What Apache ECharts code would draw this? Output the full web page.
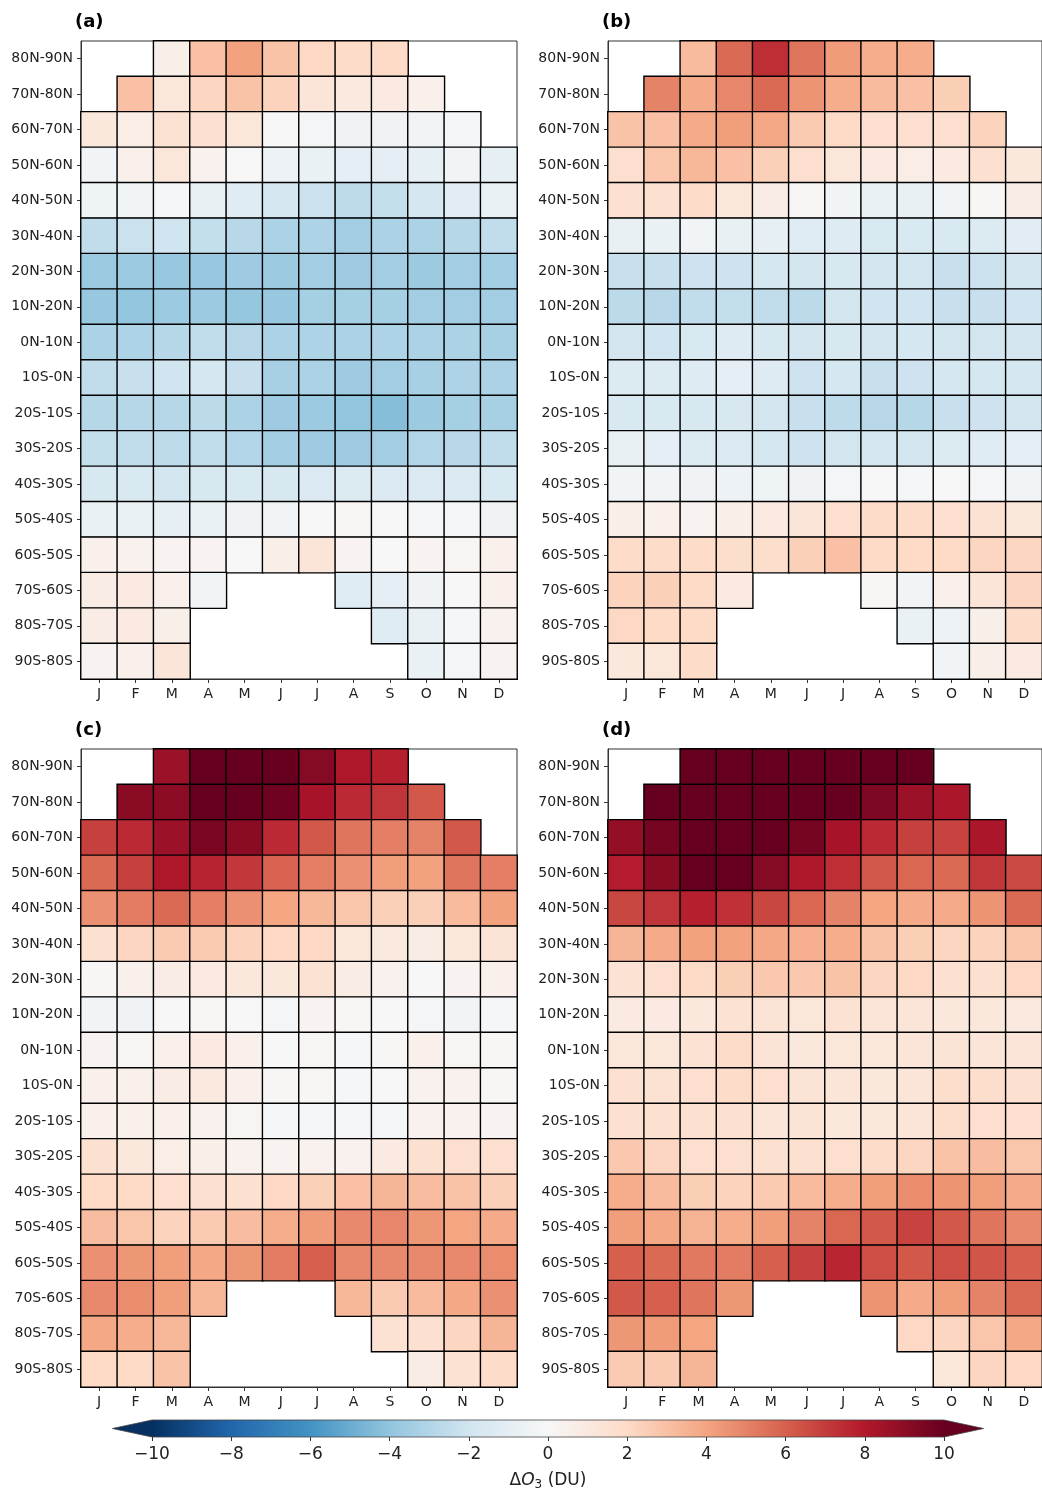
<!DOCTYPE html>
<html>
<head>
<meta charset="utf-8">
<script src="https://cdn.jsdelivr.net/npm/echarts@6/dist/echarts.min.js"></script>
<style>
  html, body { margin: 0; padding: 0; background: #fff; }
  #chart { width: 1042px; height: 1492px; }
</style>
</head>
<body>
<div id="chart"></div>
<script>
var n = null;

// month ticks and latitude bands (top to bottom)
var months = ['J', 'F', 'M', 'A', 'M', 'J', 'J', 'A', 'S', 'O', 'N', 'D'];
var bands = ['80N-90N', '70N-80N', '60N-70N', '50N-60N', '40N-50N', '30N-40N',
  '20N-30N', '10N-20N', '0N-10N', '10S-0N', '20S-10S', '30S-20S',
  '40S-30S', '50S-40S', '60S-50S', '70S-60S', '80S-70S', '90S-80S'];
var panelNames = ['(a)', '(b)', '(c)', '(d)'];

// ozone change (DU), one row per latitude band, null = no data
var panelA = [
  [n, n, 0.6, 3.0, 4.1, 2.9, 2.1, 1.9, 2.0, n, n, n],
  [n, 3.0, 1.2, 2.2, 2.9, 2.3, 1.3, 1.0, 0.9, 0.5, n, n],
  [1.1, 0.7, 1.5, 1.6, 1.2, 0.0, -0.2, -0.4, -0.4, -0.3, -0.1, n],
  [-0.3, 0.5, 1.2, 0.4, 0.0, -0.6, -0.7, -1.0, -1.0, -0.9, -0.3, -0.9],
  [-0.5, -0.3, -0.1, -0.8, -1.2, -1.8, -2.2, -2.6, -2.4, -1.8, -1.1, -0.7],
  [-2.5, -2.2, -2.0, -2.4, -2.8, -3.2, -3.1, -3.5, -3.2, -3.2, -2.9, -2.5],
  [-3.7, -3.7, -3.8, -3.8, -3.6, -3.7, -3.5, -3.6, -3.5, -3.7, -3.5, -3.5],
  [-3.8, -4.0, -3.7, -3.7, -3.9, -3.8, -3.4, -3.4, -3.4, -3.5, -3.5, -3.5],
  [-3.2, -3.1, -2.9, -2.5, -2.8, -3.2, -3.1, -3.2, -3.1, -3.2, -3.2, -3.3],
  [-2.5, -2.3, -2.0, -1.8, -2.3, -3.3, -3.2, -3.6, -3.5, -3.3, -3.1, -3.2],
  [-2.9, -2.9, -2.9, -2.7, -3.2, -3.6, -3.7, -4.0, -4.3, -3.7, -3.4, -3.3],
  [-2.4, -2.5, -2.6, -2.5, -3.0, -3.5, -3.6, -3.6, -3.5, -3.0, -2.8, -2.5],
  [-1.7, -1.6, -1.9, -1.7, -1.6, -1.7, -1.5, -1.4, -1.5, -1.5, -1.5, -1.6],
  [-0.7, -0.7, -0.9, -0.7, -0.4, -0.3, 0.0, 0.1, 0.0, -0.1, -0.2, -0.4],
  [0.5, 0.4, 0.3, 0.3, 0.0, 0.6, 1.3, 0.3, 0.0, 0.3, 0.2, 0.5],
  [0.8, 0.9, 0.5, -0.3, n, n, n, -1.2, -1.0, -0.4, 0.0, 0.5],
  [0.8, 0.9, 0.6, n, n, n, n, n, -1.2, -0.8, -0.1, 0.4],
  [0.3, 0.5, 1.3, n, n, n, n, n, n, -0.7, -0.2, 0.3]
];

var panelB = [
  [n, n, 3.2, 5.7, 7.4, 5.4, 4.3, 3.7, 3.7, n, n, n],
  [n, 5.0, 3.8, 4.9, 5.7, 4.5, 3.7, 3.2, 3.0, 2.5, n, n],
  [2.9, 3.0, 3.8, 4.2, 3.9, 2.6, 2.0, 1.7, 1.7, 1.7, 2.3, n],
  [1.7, 2.8, 3.3, 3.0, 2.4, 1.7, 1.2, 0.9, 0.7, 0.9, 1.6, 1.1],
  [1.6, 1.6, 1.9, 1.2, 0.8, 0.1, -0.3, -0.7, -0.8, -0.3, 0.1, 0.8],
  [-0.8, -0.7, -0.3, -0.8, -0.9, -1.2, -1.3, -1.6, -1.6, -1.6, -1.4, -1.1],
  [-2.3, -2.3, -2.1, -2.1, -1.8, -1.9, -1.7, -1.9, -1.9, -2.3, -2.2, -1.9],
  [-2.7, -2.8, -2.5, -2.4, -2.5, -2.7, -1.9, -2.0, -2.0, -2.3, -2.3, -2.0],
  [-1.9, -2.0, -1.6, -1.3, -1.7, -1.9, -1.7, -1.9, -1.8, -1.9, -1.9, -1.9],
  [-1.4, -1.4, -1.3, -1.0, -1.3, -2.1, -1.8, -2.3, -2.1, -1.8, -1.8, -1.8],
  [-1.6, -1.6, -1.7, -1.7, -1.9, -2.3, -2.6, -2.8, -2.9, -2.3, -2.1, -1.9],
  [-0.8, -1.0, -1.4, -1.5, -1.8, -2.1, -1.9, -1.8, -1.9, -1.4, -1.2, -1.0],
  [-0.3, -0.3, -0.4, -0.6, -0.5, -0.4, -0.2, 0.0, -0.1, 0.0, -0.2, -0.3],
  [0.6, 0.5, 0.3, 0.6, 0.9, 1.3, 1.7, 1.9, 1.9, 1.7, 1.5, 1.1],
  [1.9, 1.9, 1.9, 1.8, 1.8, 2.4, 3.0, 2.0, 2.0, 2.0, 2.2, 2.2],
  [2.3, 2.4, 2.0, 0.9, n, n, n, 0.1, -0.3, 0.5, 1.3, 2.2],
  [2.1, 2.0, 2.0, n, n, n, n, n, -0.7, -0.6, 0.6, 1.9],
  [1.1, 1.2, 1.9, n, n, n, n, n, n, -0.3, 0.6, 0.9]
];

var panelC = [
  [n, n, 8.6, 10.5, 10.5, 10.6, 9.2, 8.1, 7.8, n, n, n],
  [n, 9.1, 9.0, 10.3, 10.4, 9.8, 8.3, 7.5, 7.2, 6.2, n, n],
  [6.9, 7.5, 8.6, 9.5, 9.1, 7.5, 6.2, 5.4, 5.1, 5.0, 6.2, n],
  [5.7, 6.9, 8.1, 7.7, 7.1, 5.9, 5.1, 4.6, 4.2, 4.1, 5.4, 5.1],
  [4.6, 5.2, 5.7, 5.1, 4.6, 4.0, 3.3, 2.8, 2.4, 2.4, 3.2, 4.1],
  [1.6, 2.2, 2.6, 2.6, 2.3, 2.1, 2.1, 1.2, 1.0, 0.8, 1.2, 1.4],
  [0.1, 0.5, 0.8, 0.9, 1.1, 1.1, 1.5, 0.8, 0.4, 0.0, 0.3, 0.5],
  [-0.3, -0.4, 0.0, 0.1, 0.0, -0.2, 0.3, 0.1, 0.0, -0.2, -0.3, -0.1],
  [0.3, 0.2, 0.5, 0.9, 0.5, 0.0, 0.2, -0.1, 0.1, 0.5, 0.2, 0.1],
  [0.5, 0.5, 0.8, 1.0, 0.5, 0.1, 0.1, -0.1, 0.0, 0.4, 0.4, 0.1],
  [0.5, 0.5, 0.5, 0.4, 0.2, -0.1, -0.2, -0.2, -0.2, 0.4, 0.4, 0.3],
  [1.6, 1.1, 0.7, 0.6, 0.4, 0.3, 0.4, 0.4, 0.9, 1.6, 1.7, 1.7],
  [2.0, 2.0, 1.7, 1.6, 1.6, 2.1, 2.4, 3.0, 3.4, 3.1, 2.9, 2.4],
  [3.1, 2.8, 2.3, 2.6, 3.1, 3.7, 4.3, 4.8, 4.9, 4.4, 4.0, 3.8],
  [4.6, 4.4, 4.2, 3.9, 4.4, 5.2, 6.0, 4.8, 4.8, 4.8, 4.8, 4.7],
  [4.8, 4.7, 4.2, 3.3, n, n, n, 3.3, 2.6, 3.2, 3.9, 4.6],
  [3.9, 3.7, 3.3, n, n, n, n, n, 1.5, 1.6, 2.2, 3.4],
  [2.0, 2.0, 2.9, n, n, n, n, n, n, 0.8, 1.5, 1.9]
];

var panelD = [
  [n, n, 10.8, 11.0, 11.0, 11.0, 11.0, 11.5, 10.6, n, n, n],
  [n, 10.5, 10.6, 10.8, 11.0, 11.0, 10.2, 9.4, 8.6, 8.2, n, n],
  [8.8, 9.6, 10.6, 10.5, 10.8, 9.6, 8.3, 7.5, 6.9, 6.8, 8.2, n],
  [7.9, 9.1, 10.7, 10.6, 9.2, 8.1, 7.4, 6.2, 5.8, 5.7, 7.1, 6.6],
  [6.7, 7.2, 7.8, 7.3, 6.7, 5.8, 5.0, 4.0, 3.8, 3.8, 4.5, 5.7],
  [3.4, 3.8, 4.1, 4.1, 3.9, 3.6, 3.7, 2.9, 2.5, 2.2, 2.3, 2.8],
  [1.5, 1.7, 2.0, 2.5, 2.7, 2.7, 2.9, 2.2, 2.1, 1.6, 1.6, 2.1],
  [0.9, 0.9, 1.1, 1.5, 1.4, 1.2, 1.5, 1.3, 1.3, 1.1, 1.1, 1.0],
  [1.2, 1.2, 1.5, 1.9, 1.4, 1.1, 1.2, 1.2, 1.3, 1.4, 1.3, 1.3],
  [1.6, 1.5, 1.7, 1.9, 1.7, 1.4, 1.3, 1.1, 1.3, 1.8, 1.8, 1.6],
  [1.6, 1.6, 1.6, 1.6, 1.3, 1.4, 1.1, 1.1, 1.3, 1.8, 1.7, 1.7],
  [2.7, 2.2, 1.7, 1.7, 1.6, 1.6, 1.7, 1.9, 2.2, 2.9, 3.1, 2.8],
  [3.7, 3.2, 2.5, 2.3, 2.6, 3.2, 3.7, 4.2, 4.7, 4.5, 4.2, 3.8],
  [4.2, 3.9, 3.5, 3.7, 4.2, 5.0, 5.8, 6.2, 6.8, 6.2, 5.4, 4.8],
  [6.0, 5.7, 5.3, 5.2, 6.0, 6.9, 7.6, 6.5, 6.2, 6.5, 6.3, 6.0],
  [6.2, 6.0, 5.4, 4.4, n, n, n, 4.5, 3.8, 4.2, 5.0, 5.7],
  [4.4, 4.3, 4.0, n, n, n, n, n, 2.1, 2.2, 2.8, 3.9],
  [2.6, 2.6, 3.4, n, n, n, n, n, n, 1.2, 2.2, 2.1]
];

// colour scale (RdBu_r) and colorbar ticks
var cbMin = -10, cbMax = 10;
var cbTicks = [-10, -8, -6, -4, -2, 0, 2, 4, 6, 8, 10];
var rdbuR = ['#053061', '#2166ac', '#4393c3', '#92c5de', '#d1e5f0', '#f7f7f7',
  '#fddbc7', '#f4a582', '#d6604d', '#b2182b', '#67001f'];

var panels = [panelA, panelB, panelC, panelD];

var boxes = [
  { left: 81, top: 41, width: 436, height: 638 },
  { left: 608, top: 41, width: 439, height: 638 },
  { left: 81, top: 749, width: 436, height: 638 },
  { left: 608, top: 749, width: 439, height: 638 }
];

var font = 'DejaVu Sans';
var ink = '#222';

function cells(rows) {
  var out = [];
  rows.forEach(function (row, y) {
    row.forEach(function (v, x) {
      if (v === null) return;
      // extend='both': values past the ends take the end colours
      out.push([x, y, Math.max(cbMin, Math.min(cbMax, v))]);
    });
  });
  return out;
}

var grids = [], xAxes = [], yAxes = [], series = [], titles = [];

boxes.forEach(function (b, i) {
  grids.push({ left: b.left, top: b.top, width: b.width, height: b.height,
    show: true, borderColor: '#333', borderWidth: 1, backgroundColor: 'transparent' });
  xAxes.push({
    type: 'category', gridIndex: i,
    data: months.map(function (m, k) { return String(k); }),
    axisLine: { show: true, lineStyle: { color: '#333', width: 1 } },
    axisTick: { show: true, alignWithLabel: true, length: 4, lineStyle: { color: '#333' } },
    axisLabel: { color: ink, fontSize: 14, fontFamily: font, margin: 8,
      formatter: function (v, k) { return months[k]; } },
    splitLine: { show: false }
  });
  yAxes.push({
    type: 'category', gridIndex: i, inverse: true, data: bands,
    axisLine: { show: true, lineStyle: { color: '#333', width: 1 } },
    axisTick: { show: true, alignWithLabel: true, length: 4, lineStyle: { color: '#333' } },
    axisLabel: { color: ink, fontSize: 14, fontFamily: font, margin: 8 },
    splitLine: { show: false }
  });
  series.push({
    type: 'heatmap', xAxisIndex: i, yAxisIndex: i,
    data: cells(panels[i]),
    itemStyle: { borderColor: '#000', borderWidth: 1.4 },
    emphasis: { disabled: true }
  });
  titles.push({
    text: panelNames[i], left: b.left - 11, top: b.top - 33,
    textStyle: { fontSize: 18, fontWeight: 'bold', fontFamily: font, color: '#000' }
  });
});

// colorbar axis
grids.push({ left: 152, top: 1420, width: 792, height: 17 });
xAxes.push({
  type: 'value', gridIndex: 4, min: cbMin, max: cbMax, interval: 2,
  axisLine: { show: false },
  axisTick: { show: true, length: 4, lineStyle: { color: '#333' } },
  splitLine: { show: false },
  axisLabel: { color: ink, fontSize: 17, fontFamily: font, margin: 9,
    formatter: function (v) { return String(v).replace('-', '\u2212'); } },
  name: '{t|\u0394}{o|O}{s|3}{t| (DU)}',
  nameLocation: 'middle', nameGap: 33,
  nameTextStyle: {
    rich: {
      t: { fontSize: 17, fontFamily: font, color: ink },
      o: { fontSize: 17, fontFamily: font, fontStyle: 'italic', color: ink },
      s: { fontSize: 12, fontFamily: font, color: ink, padding: [9, 0, 0, 0] }
    }
  }
});
yAxes.push({ type: 'value', gridIndex: 4, min: 0, max: 1, show: false });

series.push({
  type: 'custom', xAxisIndex: 4, yAxisIndex: 4, clip: false, silent: true,
  data: [[cbMin, cbMax]],
  renderItem: function (params, api) {
    var p0 = api.coord([api.value(0), 0]);
    var p1 = api.coord([api.value(1), 1]);
    var len = p1[0] - p0[0];
    var ext = 0.05 * len;
    var yTop = p1[1], yBot = p0[1], yMid = (yTop + yBot) / 2;
    var tipL = p0[0] - ext, tipR = p1[0] + ext;
    var span = tipR - tipL;
    var stops = [{ offset: 0, color: rdbuR[0] }];
    rdbuR.forEach(function (c, k) {
      var v = cbMin + k * (cbMax - cbMin) / (rdbuR.length - 1);
      var x = api.coord([v, 0])[0];
      stops.push({ offset: (x - tipL) / span, color: c });
    });
    stops.push({ offset: 1, color: rdbuR[rdbuR.length - 1] });
    return {
      type: 'polygon',
      shape: { points: [[tipL, yMid], [p0[0], yTop], [p1[0], yTop], [tipR, yMid], [p1[0], yBot], [p0[0], yBot]] },
      style: {
        fill: { type: 'linear', x: tipL, y: 0, x2: tipR, y2: 0, global: true, colorStops: stops },
        stroke: '#444', lineWidth: 0.8
      }
    };
  }
});

var chart = echarts.init(document.getElementById('chart'), null, { renderer: 'canvas' });
chart.setOption({
  backgroundColor: '#fff',
  animation: false,
  title: titles,
  grid: grids,
  xAxis: xAxes,
  yAxis: yAxes,
  visualMap: {
    type: 'continuous', show: false, seriesIndex: [0, 1, 2, 3], dimension: 2,
    min: cbMin, max: cbMax, inRange: { color: rdbuR }
  },
  series: series
});
</script>
</body>
</html>
